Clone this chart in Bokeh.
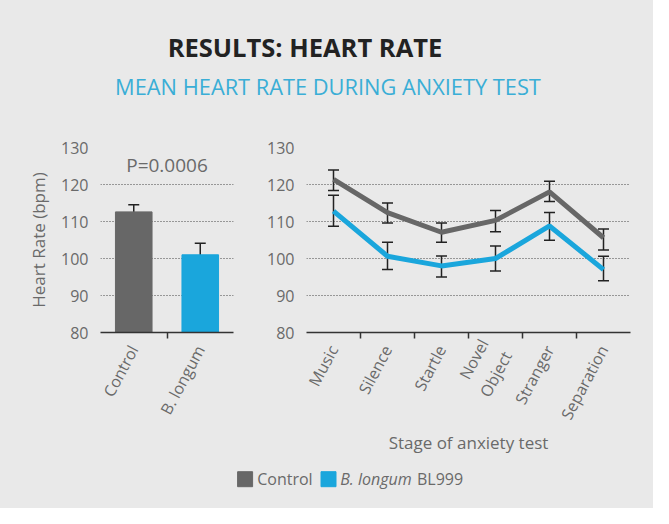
import numpy as np
from bokeh.plotting import figure
from bokeh.models import Range1d, FixedTicker, Whisker, TeeHead, ColumnDataSource, Label
from bokeh.layouts import column, row
from bokeh.embed import file_html
from bokeh.resources import INLINE

# ---------------- data ----------------
groups = ["Control", "B. longum"]
group_mean = [112.6, 101.0]
group_upper = [114.5, 104.1]
group_lower = [109.0, 98.2]

stages = ["Music", "Silence", "Startle", "Novel\nObject", "Stranger", "Separation"]
control_mean = [121.4, 112.4, 107.1, 110.3, 118.0, 105.6]
control_upper = [123.9, 115.0, 109.6, 113.0, 120.9, 108.0]
control_lower = [118.4, 109.6, 104.4, 107.2, 115.4, 102.3]
blongum_mean = [112.8, 100.6, 98.0, 100.0, 108.8, 97.0]
blongum_upper = [117.1, 104.4, 100.7, 103.4, 112.4, 100.6]
blongum_lower = [108.7, 97.0, 95.0, 96.6, 104.9, 94.0]

y_ticks = [80, 90, 100, 110, 120, 130]
p_value_text = "P=0.0006"

# ---------------- style ----------------
BG = "#e9e9e9"
GREY = "#676767"
CYAN = "#1aa6dc"
TXT = "#6a6a6a"
FONT = "Open Sans"


def base_fig(w, h, left, right, top, bottom, x_end):
    p = figure(width=w, height=h, output_backend="svg", toolbar_location=None,
               x_range=Range1d(0, x_end), y_range=Range1d(80, 130),
               min_border_left=left, min_border_right=right,
               min_border_top=top, min_border_bottom=bottom)
    p.background_fill_color = BG
    p.border_fill_color = BG
    p.outline_line_color = None
    p.xgrid.visible = False
    p.ygrid.grid_line_color = "#444444"
    p.ygrid.grid_line_dash = "1 2"
    p.ygrid.grid_line_width = 1
    p.yaxis.ticker = FixedTicker(ticks=y_ticks)
    p.yaxis.axis_line_color = None
    p.yaxis.major_tick_line_color = None
    p.yaxis.minor_tick_line_color = None
    p.yaxis.major_label_text_font = FONT
    p.yaxis.major_label_text_font_size = "16px"
    p.yaxis.major_label_text_color = TXT
    p.yaxis.major_label_standoff = 6
    n = int(x_end)
    centers = [float(i) + 0.5 for i in range(n)]
    bounds = [float(i) for i in range(1, n)]
    p.xaxis.ticker = FixedTicker(ticks=centers, minor_ticks=bounds)
    p.xaxis.axis_line_color = "#333333"
    p.xaxis.axis_line_width = 1.5
    p.xaxis.major_tick_line_color = None
    p.xaxis.major_tick_out = 0
    p.xaxis.major_tick_in = 0
    p.xaxis.minor_tick_line_color = "#333333"
    p.xaxis.minor_tick_line_width = 1.5
    p.xaxis.minor_tick_out = 6
    p.xaxis.minor_tick_in = 0
    p.xaxis.major_label_orientation = np.radians(62)
    p.xaxis.major_label_text_font = FONT
    p.xaxis.major_label_text_font_size = "16px"
    p.xaxis.major_label_text_color = TXT
    p.xaxis.major_label_standoff = 8
    p.xaxis.axis_label_text_font = FONT
    p.xaxis.axis_label_text_font_style = "normal"
    p.xaxis.axis_label_text_font_size = "17px"
    p.xaxis.axis_label_text_color = TXT
    p.yaxis.axis_label_text_font = FONT
    p.yaxis.axis_label_text_font_style = "normal"
    p.yaxis.axis_label_text_font_size = "17px"
    p.yaxis.axis_label_text_color = TXT
    return p, centers


def add_whiskers(p, x, upper, lower):
    src = ColumnDataSource(dict(x=x, upper=upper, lower=lower))
    w = Whisker(source=src, base="x", upper="upper", lower="lower", dimension="height",
                line_color="#222222", line_width=1.5,
                upper_head=TeeHead(size=11, line_color="#222222", line_width=1.5),
                lower_head=TeeHead(size=11, line_color="#222222", line_width=1.5))
    p.add_layout(w)


# ---------------- left: bar chart ----------------
left, gx = base_fig(258, 355, 100, 25, 35, 133, len(groups))
left.xaxis.major_label_overrides = {c: g for c, g in zip(gx, groups)}
left.yaxis.axis_label = "Heart Rate (bpm)"
left.yaxis.axis_label_standoff = 8
bar_src = ColumnDataSource(dict(x=gx, top=group_mean, color=[GREY, CYAN]))
left.vbar(x="x", top="top", bottom=80, width=0.55, color="color", source=bar_src)
add_whiskers(left, gx, group_upper, group_lower)
left.add_layout(Label(x=1, y=125.3, text=p_value_text, text_align="center",
                      text_baseline="middle", text_font=FONT, text_font_size="19px",
                      text_color=TXT))

# ---------------- right: line chart ----------------
right, sx = base_fig(395, 355, 48, 23, 31, 135, len(stages))
right.xaxis.major_label_overrides = {c: s for c, s in zip(sx, stages)}
right.xaxis.axis_label = "Stage of anxiety test"
right.xaxis.axis_label_standoff = 0
right.line(sx, control_mean, line_color=GREY, line_width=5)
right.line(sx, blongum_mean, line_color=CYAN, line_width=5)
add_whiskers(right, sx, control_upper, control_lower)
add_whiskers(right, sx, blongum_upper, blongum_lower)


# ---------------- header ----------------
def canvas(w, h):
    c = figure(width=w, height=h, output_backend="svg", toolbar_location=None,
               x_range=Range1d(0, w), y_range=Range1d(0, h), min_border=0)
    c.axis.visible = False
    c.grid.visible = False
    c.background_fill_color = BG
    c.border_fill_color = BG
    c.outline_line_color = None
    return c


header = canvas(653, 112)
header.add_layout(Label(x=304.5, y=112 - 46.5, text="RESULTS: HEART RATE", text_align="center",
                        text_baseline="middle", text_font=FONT, text_font_style="bold",
                        text_font_size="25.5px", text_color="#222222"))
header.add_layout(Label(x=327.5, y=112 - 86.3, text="MEAN HEART RATE DURING ANXIETY TEST",
                        text_align="center", text_baseline="middle", text_font=FONT,
                        text_font_size="21.8px", text_color="#3aaed6"))

# ---------------- legend ----------------
legend = canvas(653, 41)
ly = 41 - 11.7
legend.rect(x=[244.6], y=[ly], width=15, height=15, color=GREY)
legend.rect(x=[328.0], y=[ly], width=15, height=15, color=CYAN)
legend.add_layout(Label(x=256.7, y=ly, text="Control", text_baseline="middle", text_font=FONT,
                        text_font_size="16px", text_color=TXT))
legend.add_layout(Label(x=339.7, y=ly, text="B. longum", text_baseline="middle", text_font=FONT,
                        text_font_style="italic", text_font_size="16px", text_color=TXT))
legend.add_layout(Label(x=416.5, y=ly, text="BL999", text_baseline="middle", text_font=FONT,
                        text_font_size="16px", text_color=TXT))

inner = row(left, right, styles={"background-color": BG})
layout = column(header, inner, legend, styles={"background-color": BG})
open("out.html", "w").write(file_html(layout, INLINE))
